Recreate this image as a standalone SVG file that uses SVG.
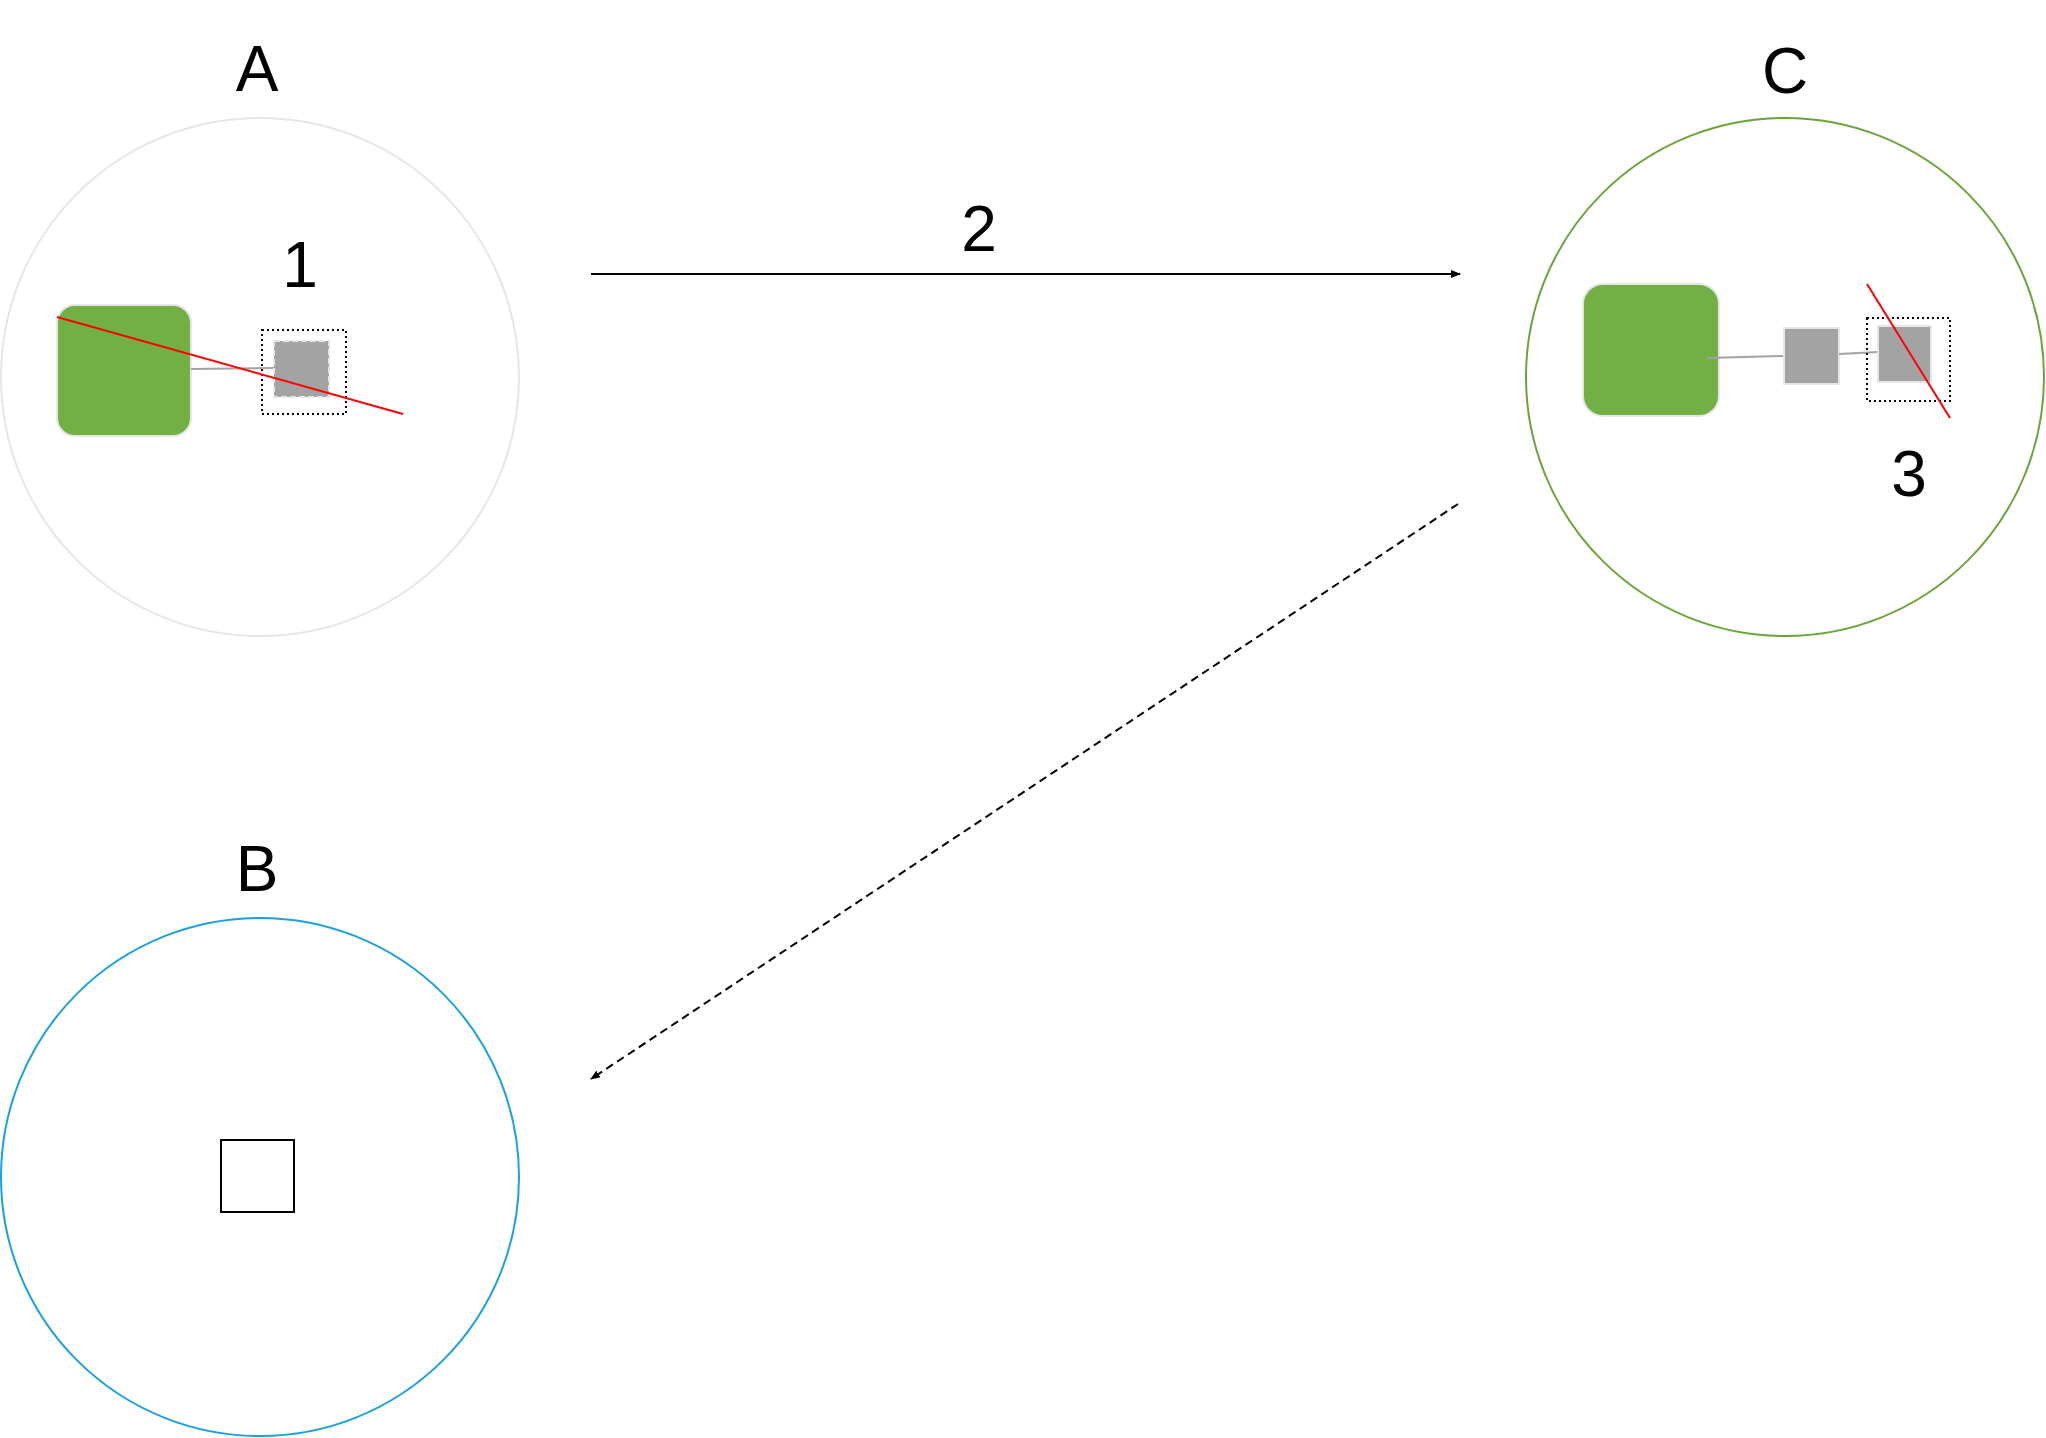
<svg xmlns="http://www.w3.org/2000/svg" width="2046" height="1438" viewBox="0 0 2046 1438">
<defs>
<marker id="ah" markerWidth="10" markerHeight="8" refX="9" refY="4" orient="auto" markerUnits="userSpaceOnUse"><path d="M0,0 L10,4 L0,8 Z" fill="#000"/></marker>
<style>
.lbl{font-family:"Liberation Sans",Arial,sans-serif;font-size:64px;fill:#000;text-anchor:middle}
.green{fill:#72b045;stroke:#e6e6e6;stroke-width:2}
.gray{fill:#a3a3a3;stroke:#e6e6e6;stroke-width:2}
.link{stroke:#a3a3a3;stroke-width:2;fill:none}
.dot{fill:none;stroke:#000;stroke-width:2;stroke-dasharray:2,3}
.red{stroke:#ff0000;stroke-width:2}
</style>
</defs>
<rect width="2046" height="1438" fill="#fff"/>
<g id="A">
<text class="lbl" x="257" y="91">A</text>
<circle cx="260" cy="377" r="259" fill="none" stroke="#e6e6e6" stroke-width="2"/>
<rect class="green" x="57" y="305" width="134" height="131" rx="18"/>
<line class="link" x1="191" y1="369" x2="274" y2="368"/>
<rect class="gray" x="274" y="341" width="55" height="56" stroke-dasharray="6,3"/>
<rect class="dot" x="262" y="330" width="84" height="84"/>
<line class="red" x1="57" y1="317" x2="403" y2="414"/>
<text class="lbl" x="300" y="287">1</text>
</g>
<g id="C">
<text class="lbl" x="1785" y="93">C</text>
<circle cx="1785" cy="377" r="259" fill="none" stroke="#6aa539" stroke-width="2"/>
<rect class="green" x="1583" y="284" width="136" height="132" rx="20"/>
<line class="link" x1="1707" y1="358" x2="1784" y2="356"/>
<rect class="gray" x="1784" y="328" width="55" height="56"/>
<line class="link" x1="1839" y1="354" x2="1878" y2="352"/>
<rect class="gray" x="1878" y="326" width="53" height="56"/>
<rect class="dot" x="1867" y="318" width="83" height="83"/>
<line class="red" x1="1867" y1="284" x2="1950" y2="418"/>
<text class="lbl" x="1909" y="496">3</text>
</g>
<g id="B">
<text class="lbl" x="257" y="891">B</text>
<circle cx="260" cy="1177" r="259" fill="none" stroke="#1ba1e2" stroke-width="2"/>
<rect x="221" y="1140" width="73" height="72" fill="#fff" stroke="#000" stroke-width="2"/>
</g>
<g id="connectors">
<line x1="591" y1="274" x2="1460" y2="274" stroke="#000" stroke-width="2" marker-end="url(#ah)"/>
<text class="lbl" x="979" y="251">2</text>
<line x1="1458" y1="504" x2="591" y2="1079" stroke="#000" stroke-width="2" stroke-dasharray="8,5" marker-end="url(#ah)"/>
</g>
</svg>
